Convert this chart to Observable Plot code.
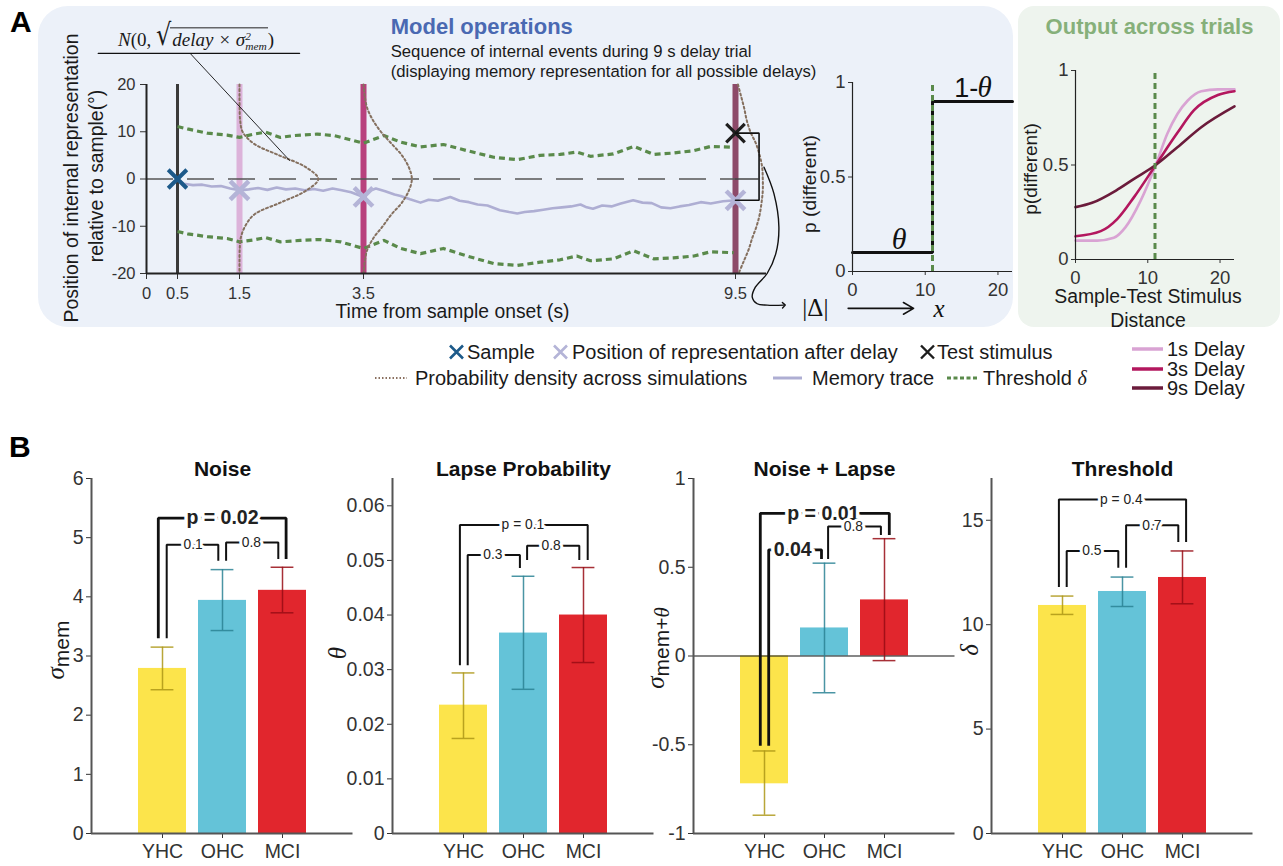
<!DOCTYPE html>
<html><head><meta charset="utf-8">
<script src="https://cdn.jsdelivr.net/npm/d3@7"></script>
<script src="https://cdn.jsdelivr.net/npm/@observablehq/plot@0.6"></script>
<style>
body{margin:0;background:#fff;font-family:"Liberation Sans",Arial,Helvetica,sans-serif;}
#fig{position:relative;width:1283px;height:866px;overflow:hidden;}
.t{position:absolute;white-space:nowrap;line-height:1;}
.serif{font-family:"Liberation Serif","DejaVu Serif",serif;font-style:italic;}
svg{display:block}
</style></head><body><div id="fig"></div>
<script>
// ---------------- Panel A data ----------------
const eventTimes = [0.5, 1.5, 3.5, 9.5];
const eventColors = ["#3a3a3a", "#dcb3da", "#b8417d", "#8d4a69"];
const xTicksA = [0, 0.5, 1.5, 3.5, 9.5];
const yTicksA = [-20, -10, 0, 10, 20];

const traceT = [0.5,0.6,0.75,0.9,1.05,1.2,1.35,1.5,1.65,1.8,1.95,2.1,2.25,2.4,2.55,2.7,2.85,3.0,3.15,3.3,3.5,3.6,3.7,3.85,4.0,4.1,4.25,4.42,4.55,4.7,4.9,5.05,5.2,5.34,5.5,5.7,5.85,5.98,6.1,6.25,6.4,6.55,6.7,6.85,7.0,7.1,7.2,7.35,7.5,7.65,7.85,8.0,8.15,8.3,8.45,8.6,8.75,8.94,9.1,9.3,9.5];
const traceY = [0,-1.0,-1.3,-1.2,-1.6,-1.5,-2.0,-2.4,-2.2,-1.9,-2.3,-1.8,-2.2,-2.0,-2.4,-2.1,-2.5,-2.0,-2.4,-2.8,-3.8,-2.5,-2.0,-2.6,-3.3,-3.6,-4.3,-5.0,-4.4,-4.6,-3.8,-4.6,-4.9,-5.4,-5.6,-6.6,-7.0,-7.3,-7.0,-6.8,-6.5,-6.2,-6.0,-5.8,-5.4,-6.0,-6.3,-5.6,-5.8,-5.2,-4.5,-5.0,-5.1,-6.0,-6.2,-5.8,-5.5,-4.9,-5.2,-4.7,-4.5];

const thrUpT = [0.5,0.66,0.98,1.3,1.5,1.73,1.92,2.16,2.38,2.75,3.02,3.29,3.5,3.83,4.1,4.42,4.79,5.17,5.6,5.98,6.35,6.67,6.94,7.16,7.53,7.86,8.18,8.5,8.83,9.1,9.47];
const thrUpY = [11.1,10.6,9.7,9.3,8.8,9.5,9.9,8.8,9.2,9.5,9.2,8.3,7.6,9.2,7.8,6.8,7.3,6.0,4.6,4.1,5.0,5.2,5.7,4.8,5.3,6.9,5.2,5.5,6.0,6.9,6.7];
const thrLoT = [0.5,0.66,0.98,1.3,1.5,1.73,1.92,2.16,2.48,2.8,3.13,3.5,3.83,4.1,4.42,4.79,5.17,5.6,5.98,6.35,6.67,6.94,7.16,7.53,7.86,8.18,8.5,8.83,9.1,9.47];
const thrLoY = [-11.1,-11.6,-12.2,-12.6,-13.3,-12.9,-12.4,-13.3,-13.0,-12.8,-13.3,-14.7,-13.0,-14.7,-15.8,-14.7,-16.3,-17.9,-18.3,-17.6,-17.1,-16.3,-17.3,-16.9,-15.2,-16.9,-16.7,-16.3,-15.4,-15.6];

// probability density (horizontal extent, in s) at each level
const densLevels = [20,17.5,15,12.5,10,7.5,5,2.5,0,-2.5,-5,-7.5,-10,-12.5,-15,-17.5,-20];
const dens1s = [0,0,0.002,0.01,0.05,0.23,0.64,1.07,1.27,1.07,0.66,0.24,0.09,0.02,0.003,0,0];
const dens3s = [0,0.02,0.06,0.15,0.28,0.45,0.62,0.73,0.78,0.73,0.62,0.45,0.31,0.16,0.06,0.02,0];
const dens9s = [0.04,0.09,0.14,0.18,0.24,0.33,0.39,0.43,0.44,0.44,0.42,0.39,0.34,0.27,0.21,0.13,0.05];

const posT = [1.5, 3.5, 9.5];
const posY = [-2.4, -3.8, -4.5];
const sampleT = 0.5, sampleY = 0;
const testT = 9.5, testY = 9.7;

// annotation geometry (data units of panel A)
const bracketT = [9.5, 9.88, 9.88, 9.5];
const bracketY = [9.7, 9.7, -4.5, -4.5];
const arrowT = [9.96, 10.12, 10.2, 10.15, 10.01, 9.82, 9.77, 9.85, 10.01, 10.28];
const arrowY = [2.5, -3.1, -10.2, -15.8, -20.0, -22.9, -25.0, -26.4, -26.7, -26.7];
const formulaRuleT = [-0.78, 2.47], formulaRuleY = [26.6, 26.6];
const leaderT = [0.71, 2.31], leaderY = [26.5, 3.9];

// step function panel
const stepX = [0, 11, 11, 22];
const stepY = [0.1, 0.1, 0.9, 0.9];
const deltaThr = 11;

// output panel
const dist1 = [0, 3, 5.3, 6.9, 9.0, 11.1, 12.7, 14.1, 15.5, 17.4, 19.7, 22];
const pd1 = [0.1, 0.1, 0.115, 0.17, 0.31, 0.5, 0.665, 0.77, 0.84, 0.89, 0.9, 0.9];
const dist3 = [0, 3.5, 5.8, 8.1, 11.1, 14.1, 16.4, 19.7, 22];
const pd3 = [0.123, 0.15, 0.215, 0.33, 0.5, 0.67, 0.79, 0.87, 0.89];
const dist9 = [0, 2.3, 5.6, 8.1, 11.1, 14.1, 17.4, 22];
const pd9 = [0.277, 0.3, 0.365, 0.427, 0.5, 0.594, 0.7, 0.81];
const delayColors = ["#d9a3d3", "#b3175e", "#6b1b3b"];

// ---------------- Panel B data ----------------
const groups = ["YHC", "OHC", "MCI"];
const barFills = ["#fce44b", "#64c3d8", "#e1262d"];
const errStrokes = ["#ad9716", "#2a8394", "#980c14"];

const noiseMean = [2.79, 3.94, 4.11], noiseLo = [2.43, 3.43, 3.73], noiseHi = [3.15, 4.46, 4.50];
const noiseTicks = [0, 1, 2, 3, 4, 5, 6];
const lapseMean = [0.0235, 0.0367, 0.0400], lapseLo = [0.0174, 0.0264, 0.0313], lapseHi = [0.0294, 0.0471, 0.0487];
const lapseTicks = [0, 0.01, 0.02, 0.03, 0.04, 0.05, 0.06];
const nlMean = [-0.72, 0.158, 0.316], nlLo = [-0.897, -0.207, -0.026], nlHi = [-0.535, 0.523, 0.661];
const nlTicks = [-1, -0.5, 0, 0.5, 1];
const thrMean = [10.92, 11.59, 12.26], thrLo = [10.49, 10.87, 11.0], thrHi = [11.37, 12.28, 13.53];
const thrTicks = [0, 5, 10, 15];

// brackets: [x1, x2, yTop, yLeftEnd, yRightEnd, label, labelX, bold]
const noiseBrackets = [[-0.07, 2.06, 5.33, 3.3, 4.64, "p = 0.02", 1.0, true], [0.07, 0.93, 4.88, 3.3, 4.61, "0.1", 0.51, false], [1.06, 1.93, 4.92, 4.61, 4.64, "0.8", 1.48, false]];
const lapseBrackets = [[-0.06, 2.07, 0.0565, 0.0308, 0.0501, "p = 0.1", 0.99, false], [0.07, 0.94, 0.051, 0.0308, 0.0486, "0.3", 0.49, false], [1.06, 1.93, 0.0527, 0.0501, 0.0501, "0.8", 1.46, false]];
const nlBrackets = [[-0.07, 2.08, 0.804, -0.506, 0.682, "p = 0.01", 0.98, true], [0.07, 0.95, 0.598, -0.506, 0.547, "0.04", 0.47, true], [1.06, 1.94, 0.729, 0.547, 0.682, "0.8", 1.48, false]];
const thrBrackets = [[-0.06, 2.06, 15.99, 11.8, 13.96, "p = 0.4", 0.98, false], [0.07, 0.93, 13.53, 11.8, 12.73, "0.5", 0.49, false], [1.06, 1.93, 14.76, 12.73, 13.96, "0.7", 1.49, false]];

// ---------------- helpers ----------------
const fig = document.getElementById("fig");
function placeNode(node, left, top) {
  node.style.position = "absolute"; node.style.left = left + "px"; node.style.top = top + "px";
  fig.appendChild(node); return node;
}
function box(left, top, w, h, bg, r) {
  const d = document.createElement("div");
  d.style.width = w + "px"; d.style.height = h + "px"; d.style.background = bg; d.style.borderRadius = r;
  return placeNode(d, left, top);
}
function txt(html, x, y, o = {}) {
  const d = document.createElement("div");
  d.className = "t";
  d.innerHTML = html;
  const a = o.anchor || "start";
  const tx = a === "start" ? "0" : a === "middle" ? "-50%" : "-100%";
  d.style.left = x + "px"; d.style.top = y + "px";
  d.style.transform = o.rotate ? "translate(-50%,-50%) rotate(-90deg)" : `translate(${tx},-50%)`;
  d.style.fontSize = (o.size || 16) + "px";
  if (o.weight) d.style.fontWeight = o.weight;
  d.style.color = o.color || "#1a1a1a";
  fig.appendChild(d);
  return d;
}
const pts = (xs, ys) => xs.map((x, i) => ({x, y: ys[i]}));
const baseStyle = {background: "transparent", overflow: "visible", fontFamily: "Liberation Sans, Arial, sans-serif", color: "#333"};

// ---------------- backgrounds ----------------
box(38, 6, 975, 321, "#ecf1f9", "30px");
box(1018, 6, 262, 321, "#eef4ee", "16px");

// ---------------- Panel A main ----------------
const densMarks = [[1.5, dens1s], [3.5, dens3s], [9.5, dens9s]].map(([t0, off]) =>
  Plot.line(densLevels.map((y, i) => ({x: t0 + off[i], y})), {x: "x", y: "y", stroke: "#85705f", strokeWidth: 2, strokeDasharray: "2,2.6", curve: "catmull-rom"}));

const mainA = Plot.plot({
  width: 1012, height: 330,
  marginLeft: 146, marginRight: 246, marginTop: 84, marginBottom: 57,
  style: {...baseStyle, fontSize: "16.5px"},
  x: {domain: [0, 10]}, y: {domain: [-20, 20]},
  marks: [
    ...eventTimes.map((t, i) => Plot.ruleX([t], {y1: -20, y2: 20, stroke: eventColors[i], strokeWidth: i === 0 ? 3 : 6})),
    Plot.ruleY([0], {x1: 0, x2: 9.5, stroke: "#555", strokeWidth: 1.4, strokeDasharray: "27,14"}),
    Plot.line(pts(thrUpT, thrUpY), {x: "x", y: "y", stroke: "#5a8a4b", strokeWidth: 3.2, strokeDasharray: "6,4", strokeLinecap: "butt"}),
    Plot.line(pts(thrLoT, thrLoY), {x: "x", y: "y", stroke: "#5a8a4b", strokeWidth: 3.2, strokeDasharray: "6,4", strokeLinecap: "butt"}),
    Plot.line(pts(traceT, traceY), {x: "x", y: "y", stroke: "#aeaed3", strokeWidth: 2.6}),
    ...densMarks,
    Plot.dot(pts([sampleT], [sampleY]), {x: "x", y: "y", symbol: "times", r: 8.5, stroke: "#1d5a8a", strokeWidth: 4}),
    Plot.dot(pts(posT, posY), {x: "x", y: "y", symbol: "times", r: 8.5, stroke: "#b4b4d7", strokeWidth: 4.5}),
    Plot.dot(pts([testT], [testY]), {x: "x", y: "y", symbol: "times", r: 8.5, stroke: "#1e1e1e", strokeWidth: 3.2}),
    Plot.ruleY([0], {x1: 9.5, x2: 9.88, stroke: "#444", strokeWidth: 1.5}),
    Plot.line(pts(bracketT, bracketY), {x: "x", y: "y", stroke: "#111", strokeWidth: 1.6, strokeLinejoin: "miter"}),
    Plot.line(pts(arrowT, arrowY), {x: "x", y: "y", stroke: "#111", strokeWidth: 1.4, curve: "catmull-rom", markerEnd: "arrow"}),
    Plot.line(pts(formulaRuleT, formulaRuleY), {x: "x", y: "y", stroke: "#111", strokeWidth: 1.2}),
    Plot.line(pts(leaderT, leaderY), {x: "x", y: "y", stroke: "#111", strokeWidth: 0.9}),
    Plot.axisX({ticks: xTicksA, tickSize: 6, tickPadding: 8, label: null, tickFormat: d => String(d)}),
    Plot.axisY({ticks: yTicksA, tickSize: 6, tickPadding: 5, label: null, tickFormat: d => String(d)}),
    Plot.ruleX([0], {y1: -20, y2: 20, stroke: "#222", strokeWidth: 2}),
    Plot.ruleY([-20], {x1: 0, x2: 10, stroke: "#222", strokeWidth: 2})
  ]
});
placeNode(mainA, 0, 0);

// ---------------- Step function panel ----------------
const stepPlot = Plot.plot({
  width: 230, height: 330,
  marginLeft: 62, marginRight: 8, marginTop: 82, marginBottom: 59,
  style: {...baseStyle, fontSize: "18.5px"},
  x: {domain: [0, 22]}, y: {domain: [0, 1]},
  marks: [
    Plot.line(pts(stepX, stepY), {x: "x", y: "y", stroke: "#111", strokeWidth: 3, strokeLinejoin: "miter"}),
    Plot.ruleX([deltaThr], {y1: 0, y2: 1, stroke: "#5a8a4b", strokeWidth: 3, strokeDasharray: "6,4"}),
    Plot.text(["θ"], {x: 6.4, y: 0.17, fontFamily: "Liberation Serif, serif", fontStyle: "italic", fontSize: 30, fill: "#111"}),
    Plot.text(["1-"], {x: 17.3, y: 0.97, textAnchor: "end", fontSize: 27, fill: "#111"}),
    Plot.text(["θ"], {x: 17.2, y: 0.97, textAnchor: "start", fontFamily: "Liberation Serif, serif", fontStyle: "italic", fontSize: 29, fill: "#111"}),
    Plot.text(["|Δ|"], {x: -5.1, y: -0.195, fontFamily: "Liberation Serif, serif", fontSize: 25, fill: "#111"}),
    Plot.arrow([0], {x1: -0.6, x2: 8.4, y1: -0.195, y2: -0.195, stroke: "#111", strokeWidth: 1.6, headLength: 11}),
    Plot.text(["x"], {x: 11.9, y: -0.2, fontFamily: "Liberation Serif, serif", fontStyle: "italic", fontSize: 25, fill: "#111"}),
    Plot.axisX({ticks: [0, 10, 20], tickSize: 4, tickPadding: 7, label: null}),
    Plot.axisY({ticks: [0, 0.5, 1], tickSize: 4, tickPadding: 3, label: null, tickFormat: d => String(d)}),
    Plot.ruleX([0], {y1: 0, y2: 1, stroke: "#222", strokeWidth: 1.2}),
    Plot.ruleY([0], {x1: 0, x2: 22, stroke: "#222", strokeWidth: 1.2})
  ]
});
placeNode(stepPlot, 790, 0);

// ---------------- Output panel ----------------
const outPlot = Plot.plot({
  width: 260, height: 330,
  marginLeft: 55, marginRight: 46, marginTop: 70, marginBottom: 71,
  style: {...baseStyle, fontSize: "18.5px"},
  x: {domain: [0, 22]}, y: {domain: [0, 1]},
  marks: [
    Plot.line(pts(dist1, pd1), {x: "x", y: "y", stroke: delayColors[0], strokeWidth: 2.6, curve: "monotone-x"}),
    Plot.line(pts(dist3, pd3), {x: "x", y: "y", stroke: delayColors[1], strokeWidth: 2.6, curve: "monotone-x"}),
    Plot.line(pts(dist9, pd9), {x: "x", y: "y", stroke: delayColors[2], strokeWidth: 2.6, curve: "monotone-x"}),
    Plot.ruleX([deltaThr], {y1: 0, y2: 1, stroke: "#5a8a4b", strokeWidth: 3, strokeDasharray: "6,4"}),
    Plot.axisX({ticks: [0, 10, 20], tickSize: 4, tickPadding: 7, label: null}),
    Plot.axisY({ticks: [0, 0.5, 1], tickSize: 4, tickPadding: 3, label: null, tickFormat: d => String(d)}),
    Plot.ruleX([0], {y1: 0, y2: 1, stroke: "#222", strokeWidth: 1.2}),
    Plot.ruleY([0], {x1: 0, x2: 22, stroke: "#222", strokeWidth: 1.2})
  ]
});
placeNode(outPlot, 1020, 0);

// ---------------- Panel B ----------------
const xDomB = [-71 / 60, 190.5 / 60];
function barPanel(left, title, yDom, ticks, mean, lo, hi, brackets, zeroLine) {
  const data = groups.map((g, i) => ({i, g, v: mean[i], lo: lo[i], hi: hi[i], fill: barFills[i], err: errStrokes[i]}));
  const bracketMarks = brackets.flatMap(([x1, x2, yT, yL, yR, label, lx, bold]) => [
    Plot.line(pts([x1, x1, x2, x2], [yL, yT, yT, yR]), {x: "x", y: "y", stroke: "#111", strokeWidth: bold ? 2.8 : 2, strokeLinejoin: "miter", strokeLinecap: "butt"}),
    Plot.text([label], {x: lx, y: yT, fontSize: bold ? 19.5 : 13.8, fontWeight: bold ? "bold" : "normal", fill: "#222", stroke: "white", strokeWidth: bold ? 7 : 6})
  ]);
  const chart = Plot.plot({
    width: 340, height: 426,
    marginLeft: 70, marginRight: 8.5, marginTop: 38, marginBottom: 33,
    style: {...baseStyle, fontSize: "19.5px"},
    x: {domain: xDomB}, y: {domain: yDom},
    color: {type: "identity"},
    marks: [
      Plot.rectY(data, {x1: d => d.i - 0.4, x2: d => d.i + 0.4, y1: 0, y2: "v", fill: "fill"}),
      ...(zeroLine ? [Plot.ruleY([0], {stroke: "#111", strokeWidth: 1.1})] : []),
      Plot.ruleX(data, {x: "i", y1: "lo", y2: "hi", stroke: "err", strokeWidth: 1.5, strokeOpacity: 0.85}),
      Plot.ruleY(data, {y: "hi", x1: d => d.i - 0.19, x2: d => d.i + 0.19, stroke: "err", strokeWidth: 1.5, strokeOpacity: 0.85}),
      Plot.ruleY(data, {y: "lo", x1: d => d.i - 0.19, x2: d => d.i + 0.19, stroke: "err", strokeWidth: 1.5, strokeOpacity: 0.85}),
      ...bracketMarks,
      Plot.text([title], {x: 1, frameAnchor: "top", dy: -17, fontSize: 21, fontWeight: "bold", fill: "#111"}),
      Plot.axisX({ticks: [0, 1, 2], tickFormat: i => groups[i], tickSize: 5, tickPadding: 6, label: null}),
      Plot.axisY({ticks, tickSize: 5, tickPadding: 3, label: null, tickFormat: d => String(d)}),
      Plot.ruleX([xDomB[0]], {y1: yDom[0], y2: yDom[1], stroke: "#555", strokeWidth: 2}),
      Plot.ruleY([yDom[0]], {stroke: "#555", strokeWidth: 2})
    ]
  });
  placeNode(chart, left, 440);
}
barPanel(21, "Noise", [0, 6], noiseTicks, noiseMean, noiseLo, noiseHi, noiseBrackets, false);
barPanel(322, "Lapse Probability", [0, 0.065], lapseTicks, lapseMean, lapseLo, lapseHi, lapseBrackets, false);
barPanel(623, "Noise + Lapse", [-1, 1], nlTicks, nlMean, nlLo, nlHi, nlBrackets, true);
barPanel(921, "Threshold", [0, 17], thrTicks, thrMean, thrLo, thrHi, thrBrackets, false);

// ---------------- Text ----------------
txt("A", 10, 22, {size: 30, weight: "bold", color: "#000"});
txt("B", 9, 447, {size: 30, weight: "bold", color: "#000"});
txt("Model operations", 390.7, 27, {size: 22, weight: "bold", color: "#4a69b2"});
txt("Sequence of internal events during 9 s delay trial", 390.7, 51.7, {size: 16.7, color: "#1a1a1a"});
txt("(displaying memory representation for all possible delays)", 390.7, 71.7, {size: 16.7, color: "#1a1a1a"});
txt("Output across trials", 1149.5, 27.3, {size: 22, weight: "bold", color: "#86b07a", anchor: "middle"});
txt("Position of internal representation", 71.7, 177.5, {size: 19.4, rotate: true});
txt("relative to sample(°)", 96.7, 175.7, {size: 19.4, rotate: true});
txt("Time from sample onset (s)", 452.5, 311.7, {size: 19.3, anchor: "middle"});
txt("p (different)", 810, 184, {size: 19.2, rotate: true});
txt("p(different)", 1030, 169, {size: 19, rotate: true});
txt("Sample-Test Stimulus", 1148, 297, {size: 19.4, anchor: "middle"});
txt("Distance", 1148, 321, {size: 19.4, anchor: "middle"});

// formula
txt('<span class="serif">N</span><span style="font-family:Liberation Serif,serif">(0,&nbsp;</span>' +
  '<span style="font-family:DejaVu Sans,sans-serif;font-size:24px;display:inline-block;transform:scaleY(1.25);transform-origin:bottom;margin-right:-1px">√</span>' +
  '<span class="serif" style="border-top:1.2px solid #222;padding:2px 1px 0 2px;display:inline-block;line-height:1.1">delay × σ' +
  '<span style="display:inline-block;vertical-align:middle;line-height:0.85;font-size:0.6em;text-align:left">2<br>mem</span></span>' +
  '<span style="font-family:Liberation Serif,serif">)</span>', 118, 39, {size: 19});

// B axis labels
txt('<span class="serif" style="font-size:25px">σ</span><span style="position:relative;top:5px">mem</span>', 55, 650, {size: 21, rotate: true});
txt('<span class="serif" style="font-size:25px">θ</span>', 337, 653, {size: 20, rotate: true});
txt('<span class="serif" style="font-size:25px">σ</span><span style="position:relative;top:5px">mem+<span class="serif">θ</span></span>', 655, 648, {size: 21, rotate: true});
txt('<span class="serif" style="font-size:25px">δ</span>', 969, 650, {size: 20, rotate: true});

// legend
const xmark = (c, w) => `<svg width="17" height="17" style="display:block"><path d="M2 2L15 15M15 2L2 15" stroke="${c}" stroke-width="${w}"/></svg>`;
const lineSw = (c, w, dash, sw) => `<svg width="${w}" height="6" style="display:block"><line x1="0" y1="3" x2="${w}" y2="3" stroke="${c}" stroke-width="${sw}" ${dash ? `stroke-dasharray="${dash}"` : ""}/></svg>`;
txt(xmark("#1d5a8a", 2.6), 448, 352);
txt("Sample", 467, 352, {size: 20});
txt(xmark("#b4b4d7", 2.6), 552, 352);
txt("Position of representation after delay", 572, 352, {size: 20});
txt(xmark("#1e1e1e", 2.4), 919, 352);
txt("Test stimulus", 937, 352, {size: 20});
txt(lineSw("#8a7060", 32, "1.5,2", 2), 375, 378);
txt("Probability density across simulations", 415, 378, {size: 20});
txt(lineSw("#aeaed3", 29, null, 3), 773, 378);
txt("Memory trace", 812, 378, {size: 20});
txt(lineSw("#5a8a4b", 31, "4,2.5", 3), 947, 378);
txt('Threshold <span class="serif">δ</span>', 983, 378, {size: 20});
["1s Delay", "3s Delay", "9s Delay"].forEach((lab, i) => {
  const y = [349, 368.5, 388][i];
  txt(lineSw(delayColors[i], 31, null, 3.5), 1132, y);
  txt(lab, 1167, y, {size: 20});
});
</script>
</body></html>
